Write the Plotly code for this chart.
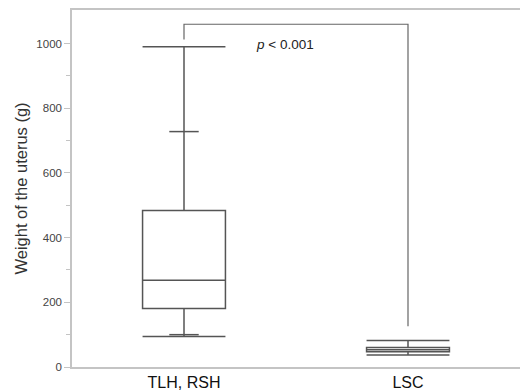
import plotly.graph_objects as go

categories = ["TLH, RSH", "LSC"]
q1 = [181, 47]
median = [268, 53]
q3 = [484, 60]
lower_fence = [94, 37]
upper_fence = [990, 82]
pctl_low = [100, None]
pctl_high = [728, None]

bracket_x = [0, 0, 1, 1]
bracket_y = [1013, 1060, 1060, 126]
p_text = "<i>p</i> < 0.001"
p_text_x = 0.45
p_text_y = 997

y_ticks = [0, 200, 400, 600, 800, 1000]
y_title = "Weight of the uterus (g)"

line_col = "#555555"
font_fam = "Arial, Liberation Sans, sans-serif"

fig = go.Figure()
fig.add_trace(go.Box(
    x=[0, 1], q1=q1, median=median, q3=q3,
    lowerfence=lower_fence, upperfence=upper_fence,
    width=0.37, whiskerwidth=1,
    fillcolor="rgba(0,0,0,0)",
    line=dict(color=line_col, width=1.5),
    boxpoints=False, hoverinfo="skip", showlegend=False,
))
fig.add_trace(go.Scatter(
    x=[0, 0], y=[pctl_low[0], pctl_high[0]], mode="markers",
    marker=dict(symbol="line-ew-open", size=21, color=line_col,
                line=dict(color=line_col, width=1.5)),
    showlegend=False, hoverinfo="skip",
))
fig.add_trace(go.Scatter(
    x=bracket_x, y=bracket_y, mode="lines",
    line=dict(color="#666666", width=1.2),
    showlegend=False, hoverinfo="skip",
))
fig.add_annotation(x=p_text_x, y=p_text_y, text=p_text, showarrow=False,
                   font=dict(family=font_fam, size=13.5, color="#222"), xanchor="center", yanchor="middle")
fig.add_annotation(x=-0.116, xref="paper", y=0.5, yref="paper", text=y_title, textangle=-90,
                   showarrow=False, xanchor="center", yanchor="middle",
                   font=dict(family=font_fam, size=16.5, color="#333"))

fig.update_layout(
    width=520, height=391,
    margin=dict(l=72, r=0, t=10, b=24),
    paper_bgcolor="white", plot_bgcolor="white",
    font=dict(family=font_fam),
)
fig.update_xaxes(
    range=[-0.5, 1.5], tickvals=[0, 1], ticktext=categories,
    showline=True, mirror=True, linecolor="#c4c4c4", linewidth=1.5,
    showgrid=False, zeroline=False, ticks="",
    tickfont=dict(size=16, color="#111"), automargin=False,
)
fig.update_yaxes(
    range=[0, 1104], tickvals=y_ticks,
    showline=True, linecolor="#c4c4c4", linewidth=1.5,
    showgrid=False, zeroline=False,
    ticks="outside", ticklen=6, tickcolor="#c4c4c4", tickwidth=1,
    minor=dict(tickvals=[100, 300, 500, 700, 900], ticks="outside", ticklen=4, tickcolor="#c4c4c4"),
    tickfont=dict(size=11.5, color="#444"),
    automargin=False,
)
fig.write_html("out.html", config={"displayModeBar": False},
               post_script="document.body.style.margin='0';document.body.style.overflow='hidden';")
